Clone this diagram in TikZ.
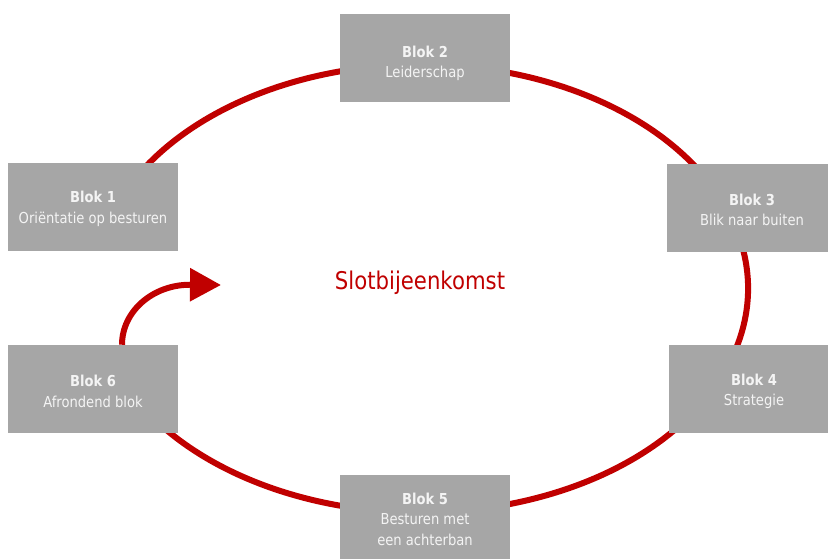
\documentclass[tikz,border=0pt]{standalone}
\usepackage{fontspec}
\setmainfont{DejaVu Sans}[FakeStretch=0.87]
\usetikzlibrary{arrows.meta}
\definecolor{boxgray}{HTML}{A6A6A6}
\definecolor{ringred}{HTML}{C00000}
\definecolor{boxtext}{HTML}{F4F4F4}
\newcommand\blokhead[2][12pt]{\rule{0pt}{#1}\textbf{#2}}
\begin{document}
\begin{tikzpicture}[x=0.75pt,y=0.75pt,
  blok/.style={fill=boxgray, minimum width=127.5pt, minimum height=66pt, inner sep=0pt,
    text=boxtext, align=center, font=\fontsize{11.3}{15.5}\selectfont},
  ring/.style={draw=ringred, line width=4.5pt}]
\clip (0,0) rectangle (828,-558);
\fill[white] (0,0) rectangle (828,-558);
% ring (open between Blok 1 and Blok 6)
\draw[ring] (420.5,-288.5) ++(200:327.5 and 224) arc[start angle=200, end angle=520, x radius=327.5, y radius=224];
% blocks
\node[blok] (b1) at (93,-206.5) {\blokhead{Blok 1}\\Oriëntatie op besturen};
\node[blok] (b2) at (425,-58) {\blokhead[16.4pt]{Blok 2}\\Leiderschap};
\node[blok] (b3) at (752,-207.5) {\blokhead{Blok 3}\\Blik naar buiten};
\node[blok] (b4) at (754,-388.5) {\blokhead[13pt]{Blok 4}\\Strategie};
\node[blok] (b5) at (425,-519) {\blokhead[9pt]{Blok 5}\\Besturen met\\een achterban};
\node[blok] (b6) at (93,-389) {\blokhead{Blok 6}\\Afrondend blok};
% centre label
\node[text=ringred, font=\fontsize{18.3}{20}\selectfont] (slot) at (420,-283) {Slotbijeenkomst};
% return arrow
\coordinate (tip) at (221,-285);
\draw[ring, -{Triangle[length=23.25pt, width=24pt]}]
  ([xshift=21.75pt]b6.north) arc[start angle=180, end angle=90, x radius=68, y radius=60] -- (tip);
\end{tikzpicture}
\end{document}
